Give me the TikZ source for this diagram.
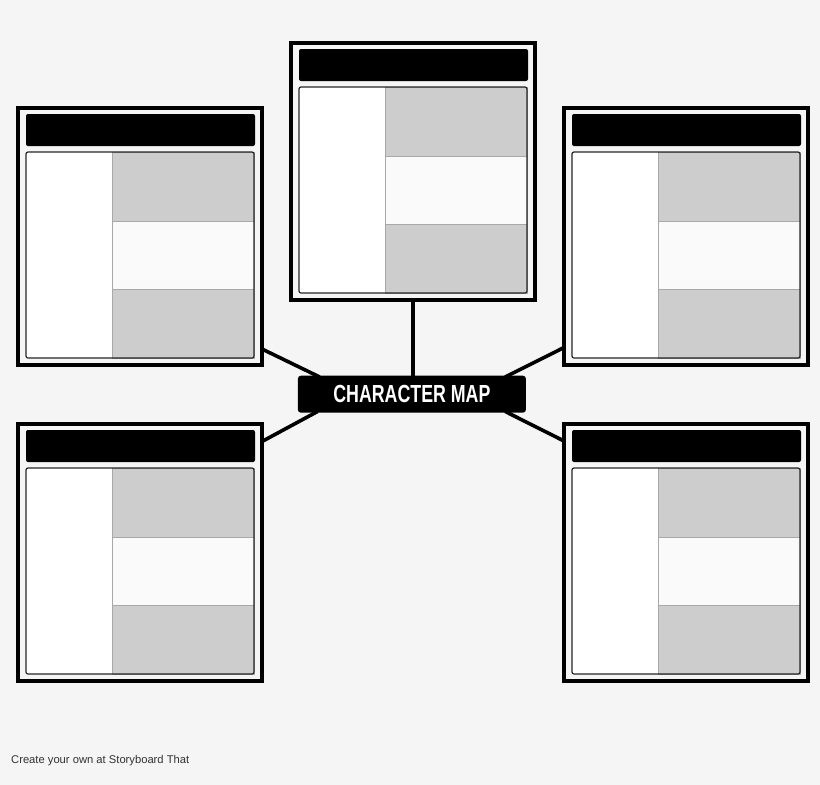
\documentclass[tikz,border=0pt]{standalone}
\usepackage{fontspec}
\setmainfont{Liberation Sans}
\usetikzlibrary{calc}
\pgfdeclarelayer{links}
\pgfsetlayers{links,main}
\definecolor{pagebg}{HTML}{F5F5F5}
\definecolor{cellgray}{HTML}{CDCDCD}
\definecolor{celllight}{HTML}{FAFAFA}
\definecolor{cellline}{HTML}{A8A8A8}
\definecolor{foot}{HTML}{333333}
\tikzset{
  cardframe/.style={draw=black, line width=4pt, fill=pagebg, minimum width=244pt, minimum height=257pt, inner sep=0pt, outer sep=0pt},
  headbar/.style={fill=black, rounded corners=2pt},
  bodyframe/.style={draw=black!85, line width=1.2pt, rounded corners=2pt},
  grayrow/.style={fill=cellgray, draw=cellline, line width=0.8pt},
  lightrow/.style={fill=celllight, draw=cellline, line width=0.8pt},
  link/.style={line width=3.6pt, black},
  titlebox/.style={fill=black, rounded corners=3pt, minimum width=228pt, minimum height=37pt, inner sep=0pt, text=white, font=\bfseries\fontsize{24.7}{26}\selectfont}
}
\newcommand{\charcard}[3]{%
  \begin{scope}[shift={(#2,#3)}]
    \node[cardframe] (#1) at (124,130.5) {};
    \fill[headbar] (10,8) rectangle (239,40);
    \fill[white] (10,46) rectangle (238,252);
    \draw[grayrow] (96,46) rectangle (238,115);
    \draw[lightrow] (96,115) rectangle (238,183);
    \draw[grayrow] (96,183) rectangle (238,252);
    \draw[bodyframe] (10,46) rectangle (238,252);
  \end{scope}}
\begin{document}
\begin{tikzpicture}[x=1pt,y=-1pt]
  \begin{pgfonlayer}{links}
    \fill[pagebg] (0,0) rectangle (820,785);
  \end{pgfonlayer}
  \useasboundingbox (0,0) rectangle (820,785);
  \node[titlebox] (cm) at (411.9,394.2) {\scalebox{0.72}[1]{CHARACTER MAP}};
  \charcard{tc}{289}{41}
  \charcard{tl}{16}{106}
  \charcard{tr}{562}{106}
  \charcard{bl}{16}{422}
  \charcard{br}{562}{422}
  \coordinate (tlend) at (262,349);
  \coordinate (blend) at (262,441.5);
  \coordinate (trend) at (564,347.5);
  \coordinate (brend) at (564,441);
  \begin{pgfonlayer}{links}
    \draw[link] (tlend) -- ($(cm.north west)+(22,1.5)$);
    \draw[link] (blend) -- ($(cm.south west)+(20,-1.5)$);
    \draw[link] (trend) -- ($(cm.north east)+(-21,1.5)$);
    \draw[link] (brend) -- ($(cm.south east)+(-21,-1.5)$);
    \draw[link] (tc.south) -- ($(tc.south |- cm.north)+(0,2)$);
  \end{pgfonlayer}
  \node[anchor=west, text=foot, font=\fontsize{11.2}{13}\selectfont, inner sep=0pt] (footer) at (11,760.5) {Create your own at Storyboard That};
\end{tikzpicture}
\end{document}
